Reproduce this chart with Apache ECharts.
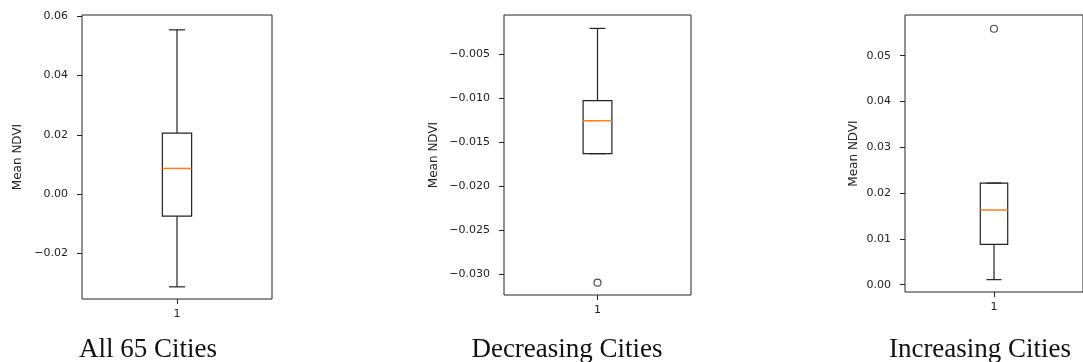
<!DOCTYPE html>
<html>
<head>
<meta charset="utf-8">
<script src="https://cdn.jsdelivr.net/npm/echarts@6/dist/echarts.min.js"></script>
<style>
html,body{margin:0;padding:0;background:#fff;}
#chart{width:1083px;height:362px;}
</style>
</head>
<body>
<div id="chart"></div>
<script>
// ---- data (whisker low, Q1, median, Q3, whisker high) ----
const categories = ['1'];
const panelTitles = ['All 65 Cities', 'Decreasing Cities', 'Increasing Cities'];
const yAxisName = 'Mean NDVI';

const allCitiesBox = [-0.0312, -0.0074, 0.0087, 0.0206, 0.0554];
const allCitiesOutliers = [];
const decreasingBox = [-0.0163, -0.0163, -0.01255, -0.01026, -0.00203];
const decreasingOutliers = [-0.0310];
const increasingBox = [0.0011, 0.0088, 0.0163, 0.0222, 0.0222];
const increasingOutliers = [0.0559];

const allCitiesTicks = [-0.02, 0.00, 0.02, 0.04, 0.06];
const decreasingTicks = [-0.030, -0.025, -0.020, -0.015, -0.010, -0.005];
const increasingTicks = [0.00, 0.01, 0.02, 0.03, 0.04, 0.05];

const allCitiesRange = [-0.0353, 0.0604];
const decreasingRange = [-0.0324, -0.0005];
const increasingRange = [-0.0016, 0.0589];

// ---- layout / style ----
const panels = [
  {box: allCitiesBox, out: allCitiesOutliers, ticks: allCitiesTicks, range: allCitiesRange, dec: 2,
   grid: {left: 82, top: 15, width: 190, height: 284}, nameGap: 58, titleX: 143},
  {box: decreasingBox, out: decreasingOutliers, ticks: decreasingTicks, range: decreasingRange, dec: 3,
   grid: {left: 504, top: 15, width: 187, height: 280}, nameGap: 64, titleX: 562},
  {box: increasingBox, out: increasingOutliers, ticks: increasingTicks, range: increasingRange, dec: 2,
   grid: {left: 905, top: 15, width: 187, height: 277}, nameGap: 45, titleX: 975}
];

const lineColor = '#222';
const textColor = '#222';
const medianColor = '#ff7f0e';

function fmt(dec) {
  return function (v) {
    const s = Math.abs(v).toFixed(dec);
    return (v < -1e-12 ? '\u2212' : '') + s;
  };
}

function renderBox(params, api) {
  const c = api.value(0);
  const pLo = api.coord([c, api.value(1)]);
  const pQ1 = api.coord([c, api.value(2)]);
  const pMed = api.coord([c, api.value(3)]);
  const pQ3 = api.coord([c, api.value(4)]);
  const pHi = api.coord([c, api.value(5)]);
  const band = api.size([1, 0])[0];
  const hw = band * 0.077;
  const cw = hw * 0.55;
  const x = pMed[0];
  const st = {stroke: lineColor, lineWidth: 1.2, fill: null};
  return {
    type: 'group',
    children: [
      {type: 'line', shape: {x1: x, y1: pQ3[1], x2: x, y2: pHi[1]}, style: st},
      {type: 'line', shape: {x1: x, y1: pQ1[1], x2: x, y2: pLo[1]}, style: st},
      {type: 'line', shape: {x1: x - cw, y1: pHi[1], x2: x + cw, y2: pHi[1]}, style: st},
      {type: 'line', shape: {x1: x - cw, y1: pLo[1], x2: x + cw, y2: pLo[1]}, style: st},
      {type: 'rect', shape: {x: x - hw, y: pQ3[1], width: 2 * hw, height: pQ1[1] - pQ3[1]},
       style: {stroke: lineColor, lineWidth: 1.2, fill: 'rgba(0,0,0,0)'}},
      {type: 'line', shape: {x1: x - hw, y1: pMed[1], x2: x + hw, y2: pMed[1]},
       style: {stroke: medianColor, lineWidth: 1.5}}
    ]
  };
}

const grids = [], xAxes = [], yAxes = [], series = [], titles = [];
panels.forEach(function (p, i) {
  grids.push(Object.assign({show: true, borderColor: lineColor, borderWidth: 1, backgroundColor: 'transparent'}, p.grid));
  xAxes.push({
    type: 'category', gridIndex: i, data: categories, boundaryGap: true, position: 'bottom',
    axisLine: {show: false, onZero: false},
    axisTick: {show: true, alignWithLabel: true, length: 5, lineStyle: {color: lineColor}},
    axisLabel: {color: textColor, fontSize: 11, fontFamily: 'DejaVu Sans', margin: 10},
    splitLine: {show: false}
  });
  yAxes.push({
    type: 'value', gridIndex: i, min: p.range[0], max: p.range[1], scale: true,
    name: yAxisName, nameLocation: 'middle', nameRotate: 90, nameGap: p.nameGap,
    nameTextStyle: {color: textColor, fontSize: 12, fontFamily: 'DejaVu Sans'},
    axisLine: {show: false, onZero: false},
    axisTick: {show: true, length: 5, customValues: p.ticks, lineStyle: {color: lineColor}},
    axisLabel: {color: textColor, fontSize: 11, fontFamily: 'DejaVu Sans', margin: 14,
                customValues: p.ticks, formatter: fmt(p.dec), showMinLabel: true, showMaxLabel: true},
    splitLine: {show: false}
  });
  series.push({
    type: 'custom', xAxisIndex: i, yAxisIndex: i,
    renderItem: renderBox,
    encode: {x: 0, y: [1, 2, 3, 4, 5]},
    data: [[0].concat(p.box)],
    silent: true, z: 2
  });
  series.push({
    type: 'scatter', xAxisIndex: i, yAxisIndex: i,
    symbol: 'circle', symbolSize: 7,
    itemStyle: {color: '#fff', borderColor: lineColor, borderWidth: 1.2},
    data: p.out.map(function (v) { return [0, v]; }),
    silent: true, z: 3
  });
  titles.push({
    text: panelTitles[i], left: p.titleX, top: 331, textAlign: 'center',
    textStyle: {fontFamily: 'Liberation Serif', fontWeight: 'normal', fontSize: 27, color: '#111'}
  });
});

const chart = echarts.init(document.getElementById('chart'), null, {renderer: 'canvas'});
chart.setOption({
  animation: false,
  backgroundColor: '#fff',
  title: titles,
  grid: grids,
  xAxis: xAxes,
  yAxis: yAxes,
  series: series
});
</script>
</body>
</html>
